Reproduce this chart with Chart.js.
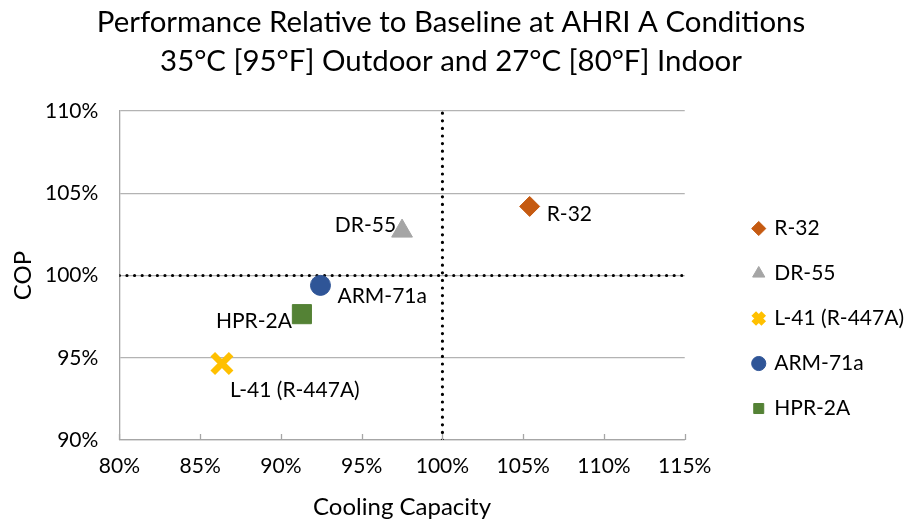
<!DOCTYPE html>
<html><head><meta charset="utf-8">
<script src="https://cdn.jsdelivr.net/npm/chart.js@4.4.1/dist/chart.umd.min.js"></script>
<style>html,body{margin:0;padding:0;background:#fff}#wrap{width:906px;height:523px}</style>
</head><body><div id="wrap"><canvas id="c" width="906" height="523"></canvas></div>
<script>
// ---- data ----
const seriesNames = ['R-32', 'DR-55', 'L-41 (R-447A)', 'ARM-71a', 'HPR-2A'];
const capacity = [105.4, 97.5, 86.35, 92.45, 91.3];   // Cooling Capacity, % of baseline
const cop = [104.2, 102.7, 94.65, 99.4, 97.65];       // COP, % of baseline
const xTicks = [80, 85, 90, 95, 100, 105, 110, 115];
const yTicks = [90, 95, 100, 105, 110];
const baseline = 100;
const titleLines = ['Performance Relative to Baseline at AHRI A Conditions', '35°C [95°F] Outdoor and 27°C [80°F] Indoor'];
const xTitle = 'Cooling Capacity';
const yTitle = 'COP';

// ---- styles ----
const FONT = 'Lato';
const colors = ['#C55A11', '#A5A5A5', '#FFC000', '#2F5597', '#548235'];
const pointStyles = ['rectRot', 'triangle', 'crossRot', 'circle', 'rect'];
const radii = [10, 12, 13, 10, 13.5];
const borderWidths = [1, 1, 6.5, 1, 1];
// label placement relative to the point: [dx, dy, align]
const labelPlace = [[17, 8, 'left'], [-6, -6, 'right'], [8, 27, 'left'], [17, 11, 'left'], [-10, 7, 'right']];
// legend placement relative to the plot area
const legendOffset = {x: 45, y: 83};

const scatterSets = seriesNames.map((n, i) => ({
  type: 'scatter',
  label: n,
  data: [{x: capacity[i], y: cop[i]}],
  pointStyle: pointStyles[i],
  radius: radii[i],
  hoverRadius: radii[i],
  backgroundColor: colors[i],
  borderColor: colors[i],
  borderWidth: borderWidths[i],
  order: 1
}));
const refSets = [
  {type: 'line', label: '_v', data: [{x: baseline, y: yTicks[0]}, {x: baseline, y: yTicks[yTicks.length - 1]}]},
  {type: 'line', label: '_h', data: [{x: xTicks[0], y: baseline}, {x: xTicks[xTicks.length - 1], y: baseline}]}
].map(d => Object.assign(d, {
  borderColor: '#000', borderWidth: 3.2, borderDash: [0, 7.6], borderCapStyle: 'round',
  pointRadius: 0, fill: false, order: 2
}));

const innerTicks = {
  id: 'innerTicks',
  afterDatasetsDraw(chart) {
    const ctx = chart.ctx, xs = chart.scales.x, bottom = chart.chartArea.bottom;
    ctx.save();
    ctx.strokeStyle = '#A6A6A6'; ctx.lineWidth = 1.3;
    xTicks.forEach(v => {
      const px = Math.round(xs.getPixelForValue(v)) + 0.5;
      ctx.beginPath(); ctx.moveTo(px, bottom); ctx.lineTo(px, bottom - 6); ctx.stroke();
    });
    ctx.restore();
  }
};
const dataLabels = {
  id: 'dataLabels',
  afterDatasetsDraw(chart) {
    const ctx = chart.ctx;
    ctx.save();
    ctx.font = '21px ' + FONT; ctx.fillStyle = '#000'; ctx.textBaseline = 'middle';
    seriesNames.forEach((n, i) => {
      const el = chart.getDatasetMeta(i).data[0];
      const p = labelPlace[i];
      ctx.textAlign = p[2];
      ctx.fillText(n, el.x + p[0], el.y + p[1]);
    });
    ctx.restore();
  }
};
const boxPlacer = {
  id: 'boxPlacer',
  afterLayout(chart) {
    const L = chart.legend, a = chart.chartArea;
    const w = L.right - L.left, h = L.bottom - L.top;
    L.left = a.right + legendOffset.x; L.right = L.left + w;
    L.top = a.top + legendOffset.y; L.bottom = L.top + h;
    const T = chart.titleBlock;
    T.left = 0; T.right = chart.width - 4; T.width = T.right;
  }
};

new Chart(document.getElementById('c'), {
  data: {datasets: scatterSets.concat(refSets)},
  plugins: [innerTicks, dataLabels, boxPlacer],
  options: {
    responsive: false, animation: false, devicePixelRatio: 1,
    layout: {padding: {left: 11, right: 37, bottom: 1, top: 0}},
    plugins: {
      title: {display: true, text: titleLines, color: '#000', font: {family: FONT, size: 29.4, weight: 'normal', lineHeight: 1.293}, padding: {top: 4, bottom: 31}},
      legend: {
        position: 'right', align: 'start',
        labels: {
          filter: it => !it.text.startsWith('_'),
          usePointStyle: true, boxWidth: 10, boxHeight: 10, padding: 24,
          color: '#000', font: {family: FONT, size: 21}
        }
      },
      tooltip: {enabled: false}
    },
    scales: {
      x: {
        type: 'linear', min: xTicks[0], max: xTicks[xTicks.length - 1],
        afterBuildTicks: s => { s.ticks = xTicks.map(v => ({value: v})); },
        ticks: {callback: v => v + '%', color: '#000', font: {family: FONT, size: 21}, padding: 14, maxRotation: 0},
        grid: {display: false, drawTicks: false},
        border: {color: '#A6A6A6', width: 1.3},
        title: {display: true, text: xTitle, color: '#000', font: {family: FONT, size: 24}, padding: {top: 0, bottom: 0}}
      },
      y: {
        type: 'linear', min: yTicks[0], max: yTicks[yTicks.length - 1],
        afterBuildTicks: s => { s.ticks = yTicks.map(v => ({value: v})); },
        ticks: {callback: v => v + '%', color: '#000', font: {family: FONT, size: 21}, padding: 21},
        grid: {color: '#B3B3B3', lineWidth: 1.3, drawTicks: false},
        border: {color: '#A6A6A6', width: 1.3},
        title: {display: true, text: yTitle, color: '#000', font: {family: FONT, size: 24, lineHeight: 1}, padding: {top: 0, bottom: -11}}
      }
    }
  }
});
</script>
</body></html>
